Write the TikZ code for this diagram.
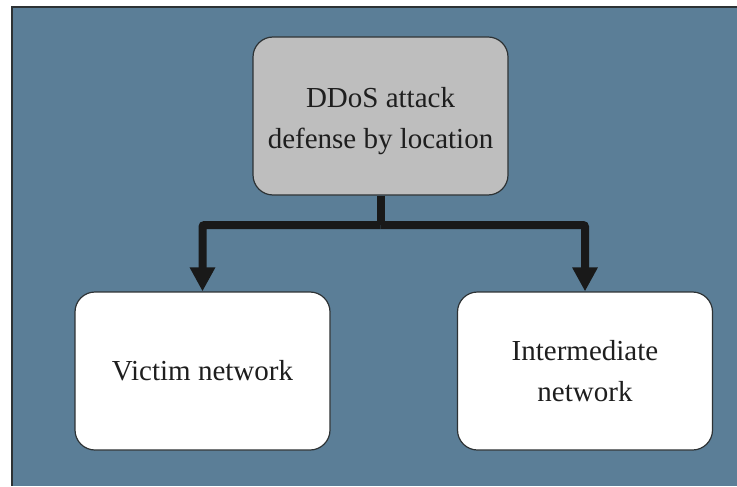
\documentclass[tikz,border=0pt]{standalone}
\usepackage{fontspec}
\setmainfont{Liberation Serif}
\usetikzlibrary{positioning,arrows.meta,calc}
\definecolor{bgC}{RGB}{91,126,151}
\definecolor{frameC}{RGB}{45,50,52}
\definecolor{rootC}{RGB}{190,190,190}
\definecolor{textC}{RGB}{30,30,30}
\tikzset{
	box/.style={draw=frameC, rounded corners=10pt, line width=0.6pt, align=center,
		minimum width=127.5pt, minimum height=79pt, inner sep=4pt,
		font=\fontsize{14.5}{20.5}\selectfont, text=textC},
	link/.style={line width=4pt, black!90},
	flow/.style={link, -{Triangle[length=12pt,width=12pt]}},
}

\begin{document}
\begin{tikzpicture}[x=0.5pt, y=-0.5pt]
		
		% ================= Frame =================
		\useasboundingbox (0,0) rectangle (737,486);
		\fill[bgC] (11,7) rectangle (737,486);
		\draw[frameC, line width=1pt] (737,7.5) -- (11.5,7.5) -- (11.5,486);
		
		% ================= Root =================
		\node[box, fill=rootC] (root) at (380.5,116)
		{\rule{0pt}{15pt}DDoS attack\\defense by location};
		
		% ================= Locations =================
		\node[box, fill=white] (victim) at (202.5,371) {Victim network};
		\node[box, fill=white] (inter) at (585,371) {Intermediate\\network};
		
		% Connectors
		\coordinate (split) at (root.south |- 0,225);
		\draw[link] (root.south) -- (split);
		\draw[flow, rounded corners=1pt] (split) -| (victim.north);
		\draw[flow, rounded corners=1pt] (split) -| (inter.north);
		
	\end{tikzpicture}
\end{document}
